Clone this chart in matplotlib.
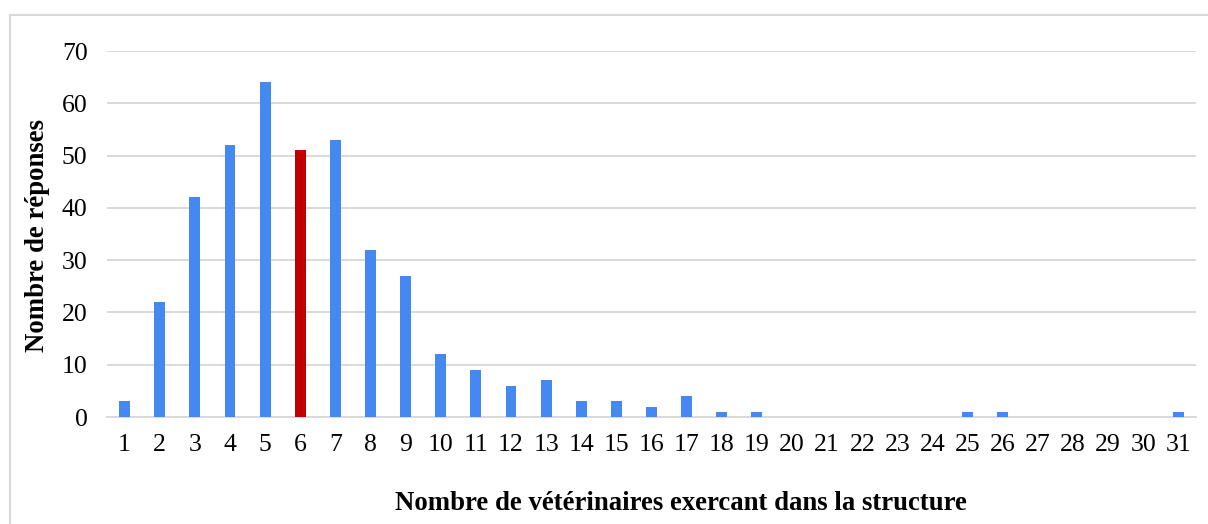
import matplotlib
matplotlib.use("Agg")
import matplotlib.pyplot as plt
from matplotlib.lines import Line2D

plt.rcParams['font.family'] = ['Liberation Serif', 'DejaVu Serif']

# data
nb_veterinaires = list(range(1, 32))
nb_reponses = [3, 22, 42, 52, 64, 51, 53, 32, 27, 12, 9, 6, 7, 3, 3, 2, 4, 1, 1,
               0, 0, 0, 0, 0, 1, 1, 0, 0, 0, 0, 1]
highlight = 6

BLUE = '#4688F1'
RED = '#C00000'
GRID = '#D9D9D9'

W, H = 1208, 524
fig = plt.figure(figsize=(W / 100, H / 100), dpi=100)
ax = fig.add_axes([107 / W, (H - 417) / H, (1196 - 107) / W, (417 - 51) / H])

colors = [RED if n == highlight else BLUE for n in nb_veterinaires]
ax.bar(nb_veterinaires, nb_reponses, width=0.31, color=colors, zorder=3)

ax.set_xlim(0.5, 31.5)
ax.set_ylim(0, 70)
ax.set_yticks(range(0, 71, 10))
ax.set_xticks(nb_veterinaires)
ax.yaxis.grid(True, color=GRID, linewidth=1.4, zorder=0)
for s in ['top', 'right', 'left']:
    ax.spines[s].set_visible(False)
ax.spines['bottom'].set_color(GRID)
ax.spines['bottom'].set_linewidth(1.4)
ax.tick_params(axis='both', length=0, labelsize=18.5)
ax.tick_params(axis='x', pad=12)
ax.tick_params(axis='y', pad=14)

fig.text(681 / W, 1 - 503 / H, 'Nombre de vétérinaires exercant dans la structure',
         ha='center', va='center', fontsize=19.3, fontweight='bold')
fig.text(38 / W, 1 - 235 / H, 'Nombre de réponses', rotation=90,
         ha='center', va='center', fontsize=19.3, fontweight='bold')

# outer frame
fig.add_artist(Line2D([10 / W, 1.0], [1 - 15 / H, 1 - 15 / H],
                      transform=fig.transFigure, color=GRID, linewidth=1.5))
fig.add_artist(Line2D([10 / W, 10 / W], [0, 1 - 15 / H],
                      transform=fig.transFigure, color=GRID, linewidth=1.5))

fig.savefig('out.png', dpi=100)
